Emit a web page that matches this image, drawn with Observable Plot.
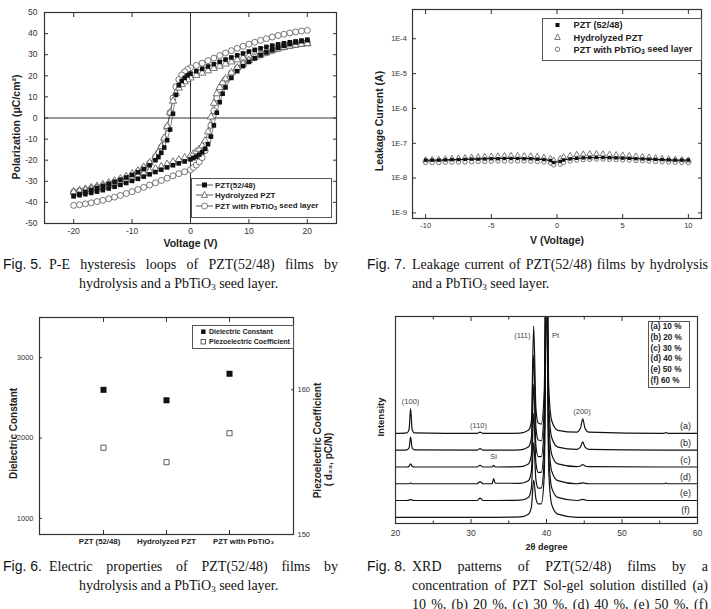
<!DOCTYPE html>
<html><head><meta charset="utf-8">
<script src="https://cdn.jsdelivr.net/npm/d3@7"></script>
<script src="https://cdn.jsdelivr.net/npm/@observablehq/plot@0.6"></script>
<style>
html,body{margin:0;padding:0;background:#fff;}
body{width:711px;height:609px;overflow:hidden;position:relative;}
.pane{position:absolute;}
.cap{position:absolute;font-family:"Liberation Serif","Times New Roman",serif;font-size:14px;line-height:19px;color:#111;white-space:nowrap;}
.lab{position:absolute;font-family:"Liberation Sans",Arial,sans-serif;font-size:14px;line-height:19px;color:#111;white-space:nowrap;}
.just{text-align:justify;text-align-last:justify;white-space:normal;}
sub{font-size:9px;line-height:0;vertical-align:-2px;}
.leg{position:absolute;}
</style></head><body>
<script>
// ================= Fig. 5 : P-E hysteresis =================
const peV = [20,19,18,17,16,15,14,13,12,11,10,9,8,7,6,5,4,3,2,1,0,-0.5,-1,-1.5,-2,-2.5,-3,-3.5,-4,-4.5,-5,-5.5,-6,-7,-8,-9,-10,-11,-12,-13,-14,-15,-16,-17,-18,-19,-20];
// descending branch (V = peV), ascending branch (V = -peV)
const pztDown = [37.0,36.7,36.3,35.9,35.4,34.9,34.3,33.7,33.0,32.3,31.5,30.6,29.7,28.7,27.7,26.6,25.5,24.4,23.3,22.2,21.0,20.2,19.0,17.5,15.5,11.0,2.0,-5.5,-10.5,-14.0,-16.5,-18.5,-20.0,-22.4,-24.2,-25.7,-27.0,-28.2,-29.3,-30.3,-31.3,-32.3,-33.2,-34.1,-35.0,-36.0,-37.0];
const pztUp = [-37.0,-36.6,-36.1,-35.5,-34.9,-34.2,-33.4,-32.6,-31.7,-30.8,-29.8,-28.8,-27.8,-26.7,-25.6,-24.5,-23.4,-22.4,-21.5,-20.6,-19.6,-19.0,-18.3,-17.4,-16.2,-14.6,-12.4,-8.8,-3.5,2.5,7.5,11.5,14.5,19.0,22.2,24.6,26.6,28.3,29.8,31.1,32.3,33.3,34.2,35.0,35.8,36.4,37.0];
const hydDown = [35.3,35.0,34.6,34.1,33.6,33.0,32.4,31.7,31.0,30.2,29.4,28.5,27.6,26.6,25.6,24.6,23.5,22.4,21.3,20.2,19.0,18.2,17.2,15.9,14.2,11.8,8.0,2.5,-4.0,-9.5,-13.5,-16.3,-18.3,-21.2,-23.3,-25.0,-26.4,-27.7,-28.8,-29.8,-30.7,-31.5,-32.3,-33.0,-33.7,-34.4,-35.0];
const hydUp = [-35.0,-34.6,-34.1,-33.6,-33.0,-32.4,-31.7,-30.9,-30.1,-29.2,-28.3,-27.3,-26.3,-25.2,-24.1,-23.0,-21.9,-20.8,-19.8,-18.8,-17.8,-17.0,-16.0,-14.8,-13.2,-10.8,-6.5,0.5,7.0,11.5,14.5,16.8,18.6,21.5,23.8,25.7,27.3,28.7,29.9,31.0,32.0,32.8,33.5,34.1,34.6,35.0,35.3];
const seedDown = [41.5,41.2,40.8,40.3,39.7,39.1,38.4,37.6,36.8,35.9,35.0,34.0,33.0,31.9,30.8,29.6,28.4,27.2,26.0,24.9,23.8,23.0,21.9,20.4,18.2,14.8,9.5,2.5,-4.5,-10.0,-13.8,-16.5,-18.5,-21.5,-23.7,-25.5,-27.0,-28.3,-29.4,-30.4,-31.3,-32.1,-32.8,-33.4,-34.0,-34.5,-35.0];
const seedUp = [-41.4,-41.1,-40.7,-40.2,-39.6,-39.0,-38.3,-37.5,-36.7,-35.8,-34.9,-33.9,-32.9,-31.8,-30.7,-29.6,-28.5,-27.4,-26.4,-25.5,-24.5,-23.5,-22.3,-20.8,-18.8,-15.5,-10.5,-3.5,3.5,9.5,13.5,16.3,18.3,21.3,23.6,25.5,27.1,28.5,29.8,30.9,31.9,32.8,33.6,34.3,34.9,35.4,35.8];
const peXTicks = [-20,-10,0,10,20];
const peYTicks = [-50,-40,-30,-20,-10,0,10,20,30,40,50];

// ================= Fig. 7 : leakage current =================
const lkV = [-10,-9.5,-9,-8.5,-8,-7.5,-7,-6.5,-6,-5.5,-5,-4.5,-4,-3.5,-3,-2.5,-2,-1.5,-1,-0.5,-0.25,0.25,0.5,1,1.5,2,2.5,3,3.5,4,4.5,5,5.5,6,6.5,7,7.5,8,8.5,9,9.5,10];
// values in units of 1E-8 A
const lkPzt = [3.3,3.3,3.3,3.35,3.4,3.4,3.45,3.5,3.5,3.55,3.6,3.6,3.65,3.65,3.65,3.6,3.6,3.5,3.4,3.2,2.8,3.0,3.3,3.55,3.7,3.8,3.85,3.9,3.9,3.85,3.8,3.75,3.7,3.6,3.55,3.5,3.45,3.4,3.35,3.3,3.3,3.3];
const lkHyd = [3.3,3.35,3.4,3.5,3.6,3.7,3.8,3.9,4.0,4.1,4.2,4.25,4.3,4.35,4.35,4.3,4.25,4.1,3.9,3.6,3.2,3.6,4.0,4.4,4.7,4.85,4.9,4.9,4.85,4.75,4.6,4.5,4.35,4.2,4.05,3.9,3.75,3.6,3.5,3.4,3.3,3.25];
const lkSeed = [2.8,2.8,2.8,2.85,2.85,2.9,2.9,2.95,3.0,3.0,3.05,3.1,3.1,3.1,3.1,3.1,3.05,3.0,2.9,2.7,2.4,2.5,2.8,3.1,3.3,3.4,3.45,3.5,3.5,3.45,3.4,3.35,3.3,3.2,3.15,3.1,3.0,2.95,2.9,2.85,2.8,2.8];
const lkXTicks = [-10,-5,0,5,10];
const lkYTicks = [1e-9,1e-8,1e-7,1e-6,1e-5,1e-4];

// ================= Fig. 6 : electric properties =================
const epCats = ["PZT (52/48)", "Hydrolyzed PZT", "PZT with PbTiO\u2083"];
const epDielectric = [2600, 2470, 2800];
const epPiezo = [156.0, 155.0, 157.0];
const epLeftTicks = [1000, 2000, 3000];
const epRightTicks = [150, 160];

// ================= Fig. 8 : XRD =================
const xrdTheta = [20,21.5,21.8,22.0,22.2,22.5,30.8,31.2,31.6,32.8,33.0,33.2,36.5,37.6,38.0,38.3,38.6,38.9,39.3,39.7,40.0,40.3,40.7,41.5,44.0,44.5,44.8,45.1,45.6,55.5,55.8,56.1,60];
const xrdA = [0,0.3,2.0,12.0,2.0,0.3,0,0.6,0,0,0,0,0.2,1.5,6,52,12,5,4.5,20,110,22,6,1.5,0.6,2.5,7.0,2.5,0.6,0,0.4,0,0];
const xrdB = [0,0.2,1.2,6.3,1.2,0.2,0,0.8,0,0,0,0,0.2,1.5,6,46,11,5,4.5,20,110,22,6,1.5,0.4,1.5,4.0,1.5,0.4,0,0,0,0];
const xrdC = [0,0,0.4,1.5,0.4,0,0,0.8,0,0,0.8,0,0.2,1.5,6,40,10,5,5,20,110,22,6,1.5,0.2,0.5,1.2,0.5,0.2,0,0,0,0];
const xrdD = [0,0,0,0.4,0,0,0,1.0,0,0,2.5,0.3,0.2,1.5,6,34,10,5.5,5.5,20,110,22,6,1.5,0,0.2,0.4,0.2,0,0,0.3,0,0];
const xrdE = [0,0,0.2,0.6,0.2,0,0,1.2,0,0,0,0,0.2,1.5,6,28,10,6,6,20,110,22,6,1.5,0,0.3,0.6,0.3,0,0,0,0,0];
const xrdF = [0,0,0,0,0,0,0,0,0,0,0,0,0.2,1.5,5,18,9,6.5,6.5,20,110,22,6,1.5,0,0,0,0,0,0,0,0,0];
const xrdNames = ["(a)","(b)","(c)","(d)","(e)","(f)"];
const xrdOffsets = [43.5,35.4,27.3,19.2,11.1,3.0];
const xrdLegend = ["(a) 10 %","(b) 20 %","(c) 30 %","(d) 40 %","(e) 50 %","(f) 60 %"];
const xrdPeakText = ["(100)","(110)","(111)","Pt","(200)","Si"];
const xrdPeakX = [22.0,31.0,36.8,41.2,44.7,33.0];
const xrdPeakY = [59,47.3,90.8,90.8,54.3,32.5];
const xrdTicks = [20,30,40,50,60];
const xrdMinor = [25,35,45,55];

// ---------------------------------------------------------------
const FONT = '"Liberation Sans", Arial, Helvetica, sans-serif';
const AX = "#333";
function place(node, left, top) {
  const d = document.createElement("div");
  d.className = "pane"; d.style.left = left + "px"; d.style.top = top + "px";
  d.appendChild(node); document.body.appendChild(d);
}
const blank = () => "";
const num = d => String(d);

// ---------- Fig 5 ----------
const loopRows = [];
[["seed", seedDown, seedUp], ["hyd", hydDown, hydUp], ["pzt", pztDown, pztUp]].forEach(([s, dn, up]) => {
  peV.forEach((v, i) => loopRows.push({s, b: "down", V: v, P: dn[i]}));
  peV.forEach((v, i) => loopRows.push({s, b: "up", V: -v, P: up[i]}));
});
const fig5 = Plot.plot({
  width: 345, height: 255, marginLeft: 44, marginRight: 9, marginTop: 12, marginBottom: 32,
  style: {fontFamily: FONT, fontSize: "8.5px", color: "#333", background: "transparent", overflow: "visible"},
  x: {domain: [-25, 25], axis: null},
  y: {domain: [-50, 50], axis: null},
  marks: [
    Plot.ruleY([0], {stroke: AX, strokeWidth: 1}),
    Plot.ruleX([0], {stroke: AX, strokeWidth: 1}),
    Plot.line(loopRows, {x: "V", y: "P", z: d => d.s + d.b, stroke: "#333", strokeWidth: 0.6}),
    Plot.dot(loopRows.filter(d => d.s === "seed"), {x: "V", y: "P", symbol: "circle", r: 3, fill: "white", stroke: "#555", strokeWidth: 0.8}),
    Plot.dot(loopRows.filter(d => d.s === "hyd"), {x: "V", y: "P", symbol: "triangle", r: 2.7, fill: "white", stroke: "#555", strokeWidth: 0.8}),
    Plot.dot(loopRows.filter(d => d.s === "pzt"), {x: "V", y: "P", symbol: "square", r: 2.6, fill: "#111", stroke: "none"}),
    Plot.frame({stroke: AX, strokeWidth: 1.2}),
    Plot.axisX({anchor: "bottom", ticks: peXTicks, tickSize: -4, tickPadding: 8, tickFormat: num, label: null, stroke: AX, fill: "#333"}),
    Plot.axisX({anchor: "top", ticks: peXTicks, tickSize: -4, tickFormat: blank, label: null, stroke: AX}),
    Plot.axisY({anchor: "left", ticks: peYTicks, tickSize: -4, tickPadding: 11, tickFormat: num, label: null, stroke: AX, fill: "#333"}),
    Plot.axisY({anchor: "right", ticks: peYTicks, tickSize: -4, tickFormat: blank, label: null, stroke: AX}),
    Plot.text(["Voltage (V)"], {text: d => d, frameAnchor: "bottom", dy: 23, fontWeight: "bold", fontSize: 10.5, fill: "#222"}),
    Plot.text(["Polarization (\u03bcC/cm\u00b2)"], {text: d => d, frameAnchor: "left", rotate: -90, dx: -28, dy: 9, textAnchor: "middle", fontWeight: "bold", fontSize: 10.5, fill: "#222"})
  ]
});
place(fig5, 0, 0);

// ---------- Fig 7 ----------
const lkRows = [];
[["seed", lkSeed], ["hyd", lkHyd], ["pzt", lkPzt]].forEach(([s, arr]) => lkV.forEach((v, i) => lkRows.push({s, V: v, I: arr[i] * 1e-8})));
const fig7 = Plot.plot({
  width: 356, height: 255, marginLeft: 57, marginRight: 10, marginTop: 9, marginBottom: 37,
  style: {fontFamily: FONT, fontSize: "7.5px", color: "#333", background: "transparent", overflow: "visible"},
  x: {domain: [-11, 11], axis: null},
  y: {type: "log", domain: [Math.pow(10, -9.16), Math.pow(10, -3.16)], axis: null},
  marks: [
    Plot.dot(lkRows.filter(d => d.s === "seed"), {x: "V", y: "I", symbol: "circle", r: 2.2, fill: "white", stroke: "#555", strokeWidth: 0.8}),
    Plot.dot(lkRows.filter(d => d.s === "hyd"), {x: "V", y: "I", symbol: "triangle", r: 2.2, fill: "white", stroke: "#555", strokeWidth: 0.8}),
    Plot.line(lkRows.filter(d => d.s === "pzt"), {x: "V", y: "I", stroke: "#111", strokeWidth: 1.2}),
    Plot.dot(lkRows.filter(d => d.s === "pzt"), {x: "V", y: "I", symbol: "square", r: 1.9, fill: "#111"}),
    Plot.frame({stroke: AX, strokeWidth: 1.2}),
    Plot.axisX({anchor: "bottom", ticks: lkXTicks, tickSize: -4, tickPadding: 8, tickFormat: num, label: null, stroke: AX, fill: "#333"}),
    Plot.axisX({anchor: "top", ticks: lkXTicks, tickSize: -4, tickFormat: blank, label: null, stroke: AX}),
    Plot.axisY({anchor: "left", ticks: lkYTicks, tickSize: -4, tickPadding: 9.5, tickFormat: d => "1E" + Math.round(Math.log10(d)), label: null, stroke: AX, fill: "#333"}),
    Plot.axisY({anchor: "right", ticks: lkYTicks, tickSize: -4, tickFormat: blank, label: null, stroke: AX}),
    Plot.text(["V (Voltage)"], {text: d => d, frameAnchor: "bottom", dy: 25, fontWeight: "bold", fontSize: 10.5, fill: "#222"}),
    Plot.text(["Leakage Current (A)"], {text: d => d, frameAnchor: "left", rotate: -90, dx: -33, dy: 7, textAnchor: "middle", fontWeight: "bold", fontSize: 10.5, fill: "#222"})
  ]
});
place(fig7, 355, 0);

// ---------- Fig 6 ----------
const toLeft = v => 800 + (v - 150) * 180;   // right axis (pC/N) onto left axis scale
const epRows = epCats.map((c, i) => ({c, diel: epDielectric[i], piezo: epPiezo[i]}));
const epLabelShift = [-4, 0, 14];
const fig6 = Plot.plot({
  width: 345, height: 255, marginLeft: 39, marginRight: 52, marginTop: 17, marginBottom: 21,
  style: {fontFamily: FONT, fontSize: "7.5px", color: "#333", background: "transparent", overflow: "visible"},
  x: {type: "point", domain: epCats, padding: 1, axis: null},
  y: {domain: [800, 3500], axis: null},
  marks: [
    Plot.dot(epRows, {x: "c", y: d => toLeft(d.piezo), symbol: "square", r: 2.9, fill: "white", stroke: "#333", strokeWidth: 0.8}),
    Plot.dot(epRows, {x: "c", y: "diel", symbol: "square", r: 3.4, fill: "#111"}),
    Plot.frame({stroke: AX, strokeWidth: 1.2}),
    Plot.axisX({anchor: "bottom", tickSize: -4, tickFormat: blank, label: null, stroke: AX}),
    ...epCats.map((c, i) => Plot.text([c], {x: d => d, text: d => d, frameAnchor: "bottom", dy: 9, dx: epLabelShift[i], fontWeight: "bold", fontSize: 7.8, fill: "#222"})),
    Plot.axisX({anchor: "top", tickSize: -4, tickFormat: blank, label: null, stroke: AX}),
    Plot.axisY({anchor: "left", ticks: epLeftTicks, tickSize: -3, tickPadding: 9, tickFormat: num, label: null, stroke: AX, fill: "#333"}),
    Plot.axisY({anchor: "right", ticks: epRightTicks.map(toLeft), tickSize: -3, tickPadding: 7, tickFormat: d => String(Math.round((d - 800) / 180 + 150)), label: null, stroke: AX, fill: "#333"}),
    Plot.text(["Dielectric Constant"], {text: d => d, frameAnchor: "left", rotate: -90, dx: -26, dy: 7.5, textAnchor: "middle", fontWeight: "bold", fontSize: 10, fill: "#222"}),
    Plot.text(["Piezoelectric Coefficient"], {text: d => d, frameAnchor: "right", rotate: -90, dx: 24, dy: 14.5, textAnchor: "middle", fontWeight: "bold", fontSize: 10, fill: "#222"}),
    Plot.text(["( d\u2083\u2083, pC/N)"], {text: d => d, frameAnchor: "right", rotate: -90, dx: 35.5, dy: 33.5, textAnchor: "middle", fontWeight: "bold", fontSize: 10, fill: "#222"})
  ]
});
place(fig6, 0, 300);

// ---------- Fig 8 ----------
const xrdSeries = [xrdA, xrdB, xrdC, xrdD, xrdE, xrdF];
const xrdRows = [];
xrdSeries.forEach((arr, k) => xrdTheta.forEach((t, i) => xrdRows.push({s: xrdNames[k], t, I: xrdOffsets[k] + arr[i]})));
const xrdNameRows = xrdNames.map((n, k) => ({n, y: xrdOffsets[k] + 3.4}));
const xrdPeakRows = xrdPeakText.map((n, i) => ({n, x: xrdPeakX[i], y: xrdPeakY[i]}));
const fig8 = Plot.plot({
  width: 356, height: 255, marginLeft: 40, marginRight: 14, marginTop: 16, marginBottom: 32,
  style: {fontFamily: FONT, fontSize: "8.5px", color: "#333", background: "transparent", overflow: "visible"},
  x: {domain: [20, 60], axis: null},
  y: {domain: [0, 100], axis: null},
  marks: [
    Plot.line(xrdRows, {x: "t", y: "I", z: "s", curve: "monotone-x", stroke: "#111", strokeWidth: 1.2, clip: true}),
    Plot.text(xrdPeakRows, {x: "x", y: "y", text: "n", fontSize: 7.5, fill: "#444"}),
    Plot.text(xrdNameRows, {x: 58.4, y: "y", text: "n", fontSize: 9, fill: "#222"}),
    Plot.frame({stroke: AX, strokeWidth: 1.2}),
    Plot.axisX({anchor: "bottom", ticks: xrdTicks, tickSize: -4, tickPadding: 10.5, tickFormat: num, label: null, stroke: AX, fill: "#333"}),
    Plot.axisX({anchor: "bottom", ticks: xrdMinor, tickSize: -2.5, tickFormat: blank, label: null, stroke: AX}),
    Plot.axisX({anchor: "top", ticks: xrdTicks, tickSize: -4, tickFormat: blank, label: null, stroke: AX}),
    Plot.axisX({anchor: "top", ticks: xrdMinor, tickSize: -2.5, tickFormat: blank, label: null, stroke: AX}),
    Plot.text(["2\u03b8 degree"], {text: d => d, frameAnchor: "bottom", dy: 26, fontWeight: "bold", fontSize: 9, fill: "#222"}),
    Plot.text(["Intensity"], {text: d => d, frameAnchor: "left", rotate: -90, dx: -15, dy: -3, textAnchor: "middle", fontWeight: "bold", fontSize: 9.5, fill: "#222"})
  ]
});
place(fig8, 355, 300);

// ---------- legends (HTML/SVG overlays) ----------
function legendSvg(left, top, w, h, inner) {
  const div = document.createElement("div");
  div.className = "leg"; div.style.left = left + "px"; div.style.top = top + "px";
  div.innerHTML = `<svg width="${w}" height="${h}" xmlns="http://www.w3.org/2000/svg" style="display:block;overflow:visible">
    <rect x="0.5" y="0.5" width="${w - 1}" height="${h - 1}" fill="white" stroke="#555" stroke-width="1"/>
    <g font-family='${FONT}' font-weight="bold" fill="#222">${inner}</g></svg>`;
  document.body.appendChild(div);
}
const sq = (x, y, s, fill) => `<rect x="${x - s / 2}" y="${y - s / 2}" width="${s}" height="${s}" fill="${fill}" stroke="${fill === 'white' ? '#333' : 'none'}" stroke-width="0.8"/>`;
const tri = (x, y, s) => `<path d="M${x},${y - s * 0.6} L${x + s / 2},${y + s * 0.4} L${x - s / 2},${y + s * 0.4} Z" fill="white" stroke="#555" stroke-width="0.8"/>`;
const circ = (x, y, r) => `<circle cx="${x}" cy="${y}" r="${r}" fill="white" stroke="#555" stroke-width="0.8"/>`;
const sub3 = `<tspan font-size="0.7em" dy="0.3em">3</tspan>`;

// Fig 5 legend
legendSvg(191, 178, 141, 40,
  `<line x1="5" x2="22" y1="7" y2="7" stroke="#333" stroke-width="0.8"/>${sq(13.5, 7, 5, '#111')}
   <text x="24" y="7" dy="0.35em" font-size="8">PZT(52/48)</text>
   <line x1="5" x2="22" y1="17" y2="17" stroke="#333" stroke-width="0.8"/>${tri(13.5, 17, 6)}
   <text x="24" y="17" dy="0.35em" font-size="8">Hydrolyzed PZT</text>
   <line x1="5" x2="22" y1="28" y2="28" stroke="#333" stroke-width="0.8"/>${circ(13.5, 28, 3)}
   <text x="24" y="28" dy="0.35em" font-size="8">PZT with PbTiO${sub3}<tspan dy="-0.3em"> seed layer</tspan></text>`);

// Fig 7 legend
legendSvg(541.5, 18, 160, 43,
  `${sq(15.5, 7, 4, '#111')}<text x="31.5" y="7" dy="0.35em" font-size="9.2">PZT (52/48)</text>
   ${tri(15.5, 19.3, 5.5)}<text x="31.5" y="19.3" dy="0.35em" font-size="9.2">Hydrolyzed PZT</text>
   ${circ(15.5, 31.3, 2.2)}<text x="31.5" y="31.3" dy="0.35em" font-size="9.2">PZT with PbTiO${sub3}<tspan dy="-0.3em"> seed layer</tspan></text>`);

// Fig 6 legend
legendSvg(191.5, 325, 102, 24,
  `${sq(11.3, 6.7, 4.5, '#111')}<text x="17" y="6.7" dy="0.35em" font-size="7">Dielectric Constant</text>
   ${sq(11.3, 16.7, 4.5, 'white')}<text x="17" y="16.7" dy="0.35em" font-size="7">Piezoelectric Coefficient</text>`);

// Fig 8 legend
legendSvg(648, 320.5, 42, 67,
  xrdLegend.map((t, i) => `<text x="2.5" y="${5.5 + i * 10.7}" dy="0.35em" font-size="8.2">${t}</text>`).join(""));

// ---------- captions ----------
function cap(html, left, top, width, cls) {
  const d = document.createElement("div");
  d.className = cls; d.style.left = left + "px"; d.style.top = top + "px";
  if (width) d.style.width = width + "px";
  d.innerHTML = html; document.body.appendChild(d);
}
cap("Fig. 5.", 3, 255, 0, "lab");
cap("P-E hysteresis loops of PZT(52/48) films by", 49, 255, 289, "cap just");
cap("hydrolysis and a PbTiO<sub>3</sub> seed layer.", 79, 274, 0, "cap");

cap("Fig. 7.", 367, 255, 0, "lab");
cap("Leakage current of PZT(52/48) films by hydrolysis", 412, 255, 296, "cap just");
cap("and a PbTiO<sub>3</sub> seed layer.", 412, 274, 0, "cap");

cap("Fig. 6.", 3, 557, 0, "lab");
cap("Electric properties of PZT(52/48) films by", 49, 557, 289, "cap just");
cap("hydrolysis and a PbTiO<sub>3</sub> seed layer.", 79, 576, 0, "cap");

cap("Fig. 8.", 367, 557, 0, "lab");
cap("XRD patterns of PZT(52/48) films by a", 412, 557, 296, "cap just");
cap("concentration of PZT Sol-gel solution distilled (a)", 412, 576, 296, "cap just");
cap("10 %, (b) 20 %, (c) 30 %, (d) 40 %, (e) 50 %, (f)", 412, 595, 296, "cap just");
</script>
</body></html>
